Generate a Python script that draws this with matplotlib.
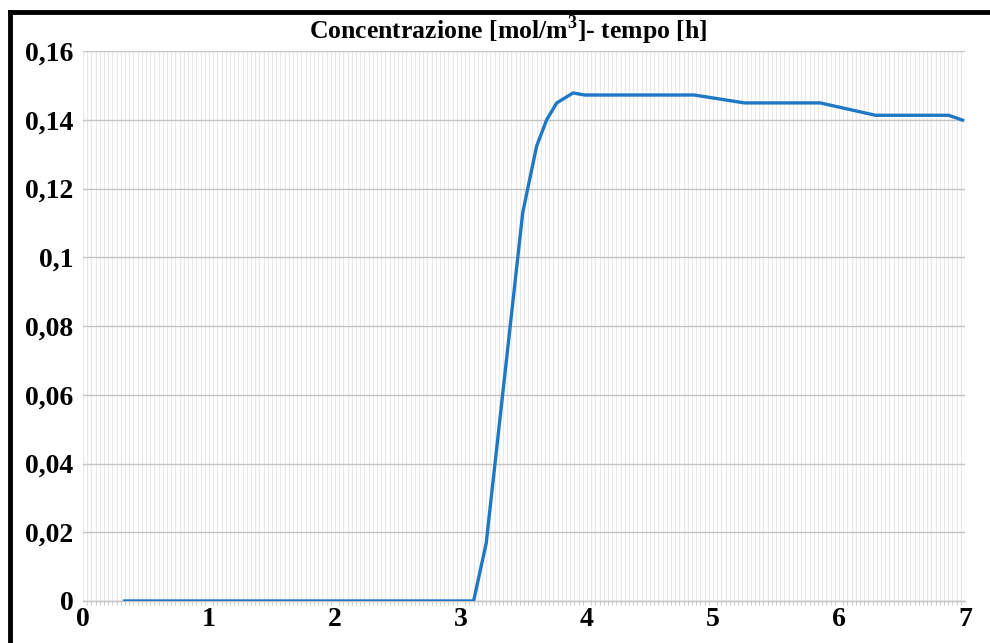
import matplotlib
matplotlib.use("Agg")
import matplotlib.pyplot as plt
from matplotlib.ticker import MultipleLocator
from matplotlib.lines import Line2D

title = "Concentrazione [mol/m$^\\mathregular{3}$]- tempo [h]"
time_h = [0.33, 3.10, 3.20, 3.49, 3.60, 3.68, 3.76, 3.89, 3.98, 4.85, 5.25, 5.85, 6.29, 6.87, 6.98]
conc = [0.0, 0.0, 0.0168, 0.113, 0.1323, 0.140, 0.1449, 0.1478, 0.1472, 0.1472, 0.1449, 0.1449, 0.1413, 0.1413, 0.1399]
x_ticks = [0, 1, 2, 3, 4, 5, 6, 7]
y_ticks = [0, 0.02, 0.04, 0.06, 0.08, 0.10, 0.12, 0.14, 0.16]
y_labels = ["0", "0,02", "0,04", "0,06", "0,08", "0,1", "0,12", "0,14", "0,16"]

W, H = 990, 643
fig = plt.figure(figsize=(W / 100, H / 100), dpi=100)
fig.patch.set_facecolor("white")
ax = fig.add_axes([83 / W, 1 - 601 / H, (965 - 83) / W, (601 - 51) / H])
ax.set_facecolor("white")

serif = ["Liberation Serif", "DejaVu Serif"]

ax.xaxis.set_minor_locator(MultipleLocator(1 / 30))
ax.grid(which="minor", axis="x", color="#ebe8e8", linewidth=0.9)
ax.grid(which="major", axis="x", color="#ebe8e8", linewidth=0.9)
ax.grid(which="major", axis="y", color="#c4c4c4", linewidth=1.0)
ax.set_axisbelow(True)

ax.plot(time_h, conc, color="#1f78c4", linewidth=2.4, solid_joinstyle="round", zorder=3)

ax.set_xlim(0, 7)
ax.set_ylim(0, 0.16)
ax.set_xticks(x_ticks)
ax.set_xticklabels([str(v) for v in x_ticks], fontfamily=serif, fontweight="bold", fontsize=20)
ax.set_yticks(y_ticks)
ax.set_yticklabels(y_labels, fontfamily=serif, fontweight="bold", fontsize=20)
ax.tick_params(axis="y", which="major", length=0, pad=7)
ax.tick_params(axis="x", which="major", length=0, pad=4)
ax.tick_params(axis="x", which="minor", length=3, color="#c4c4c4", direction="out")
for s in ["left", "right", "top"]:
    ax.spines[s].set_visible(False)
ax.spines["bottom"].set_color("#c4c4c4")
ax.spines["bottom"].set_linewidth(1.0)

fig.text(508 / W, 1 - 30 / H, title, ha="center", va="center",
         fontfamily=serif, fontweight="bold", fontsize=18.5)

fig.add_artist(Line2D([10 / W, 10 / W], [0, 1 - 12 / H], color="black", linewidth=3.5, transform=fig.transFigure))
fig.add_artist(Line2D([10 / W, 1], [1 - 12 / H, 1 - 12 / H], color="black", linewidth=3.5, transform=fig.transFigure))

fig.savefig("out.png", dpi=100, facecolor="white")
